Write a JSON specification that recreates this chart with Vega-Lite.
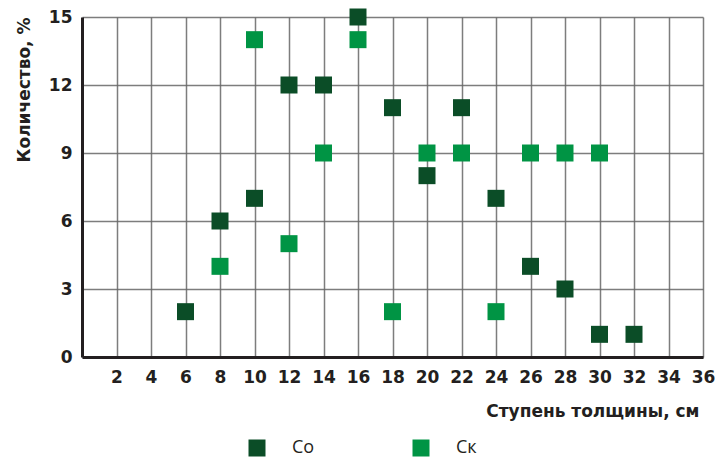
{
  "$schema": "https://vega.github.io/schema/vega-lite/v6.json",
  "autosize": "none",
  "width": 621,
  "height": 340,
  "padding": {"left": 82, "top": 17, "right": 12, "bottom": 102},
  "background": "white",
  "config": {
    "view": {"stroke": null},
    "font": "DejaVu Sans"
  },
  "data": {
    "values": [
      {"d": 6, "v": 2, "s": "Со"},
      {"d": 8, "v": 6, "s": "Со"},
      {"d": 10, "v": 7, "s": "Со"},
      {"d": 12, "v": 12, "s": "Со"},
      {"d": 14, "v": 12, "s": "Со"},
      {"d": 16, "v": 15, "s": "Со"},
      {"d": 18, "v": 11, "s": "Со"},
      {"d": 20, "v": 8, "s": "Со"},
      {"d": 22, "v": 11, "s": "Со"},
      {"d": 24, "v": 7, "s": "Со"},
      {"d": 26, "v": 4, "s": "Со"},
      {"d": 28, "v": 3, "s": "Со"},
      {"d": 30, "v": 1, "s": "Со"},
      {"d": 32, "v": 1, "s": "Со"},
      {"d": 8, "v": 4, "s": "Ск"},
      {"d": 10, "v": 14, "s": "Ск"},
      {"d": 12, "v": 5, "s": "Ск"},
      {"d": 14, "v": 9, "s": "Ск"},
      {"d": 16, "v": 14, "s": "Ск"},
      {"d": 18, "v": 2, "s": "Ск"},
      {"d": 20, "v": 9, "s": "Ск"},
      {"d": 22, "v": 9, "s": "Ск"},
      {"d": 24, "v": 2, "s": "Ск"},
      {"d": 26, "v": 9, "s": "Ск"},
      {"d": 28, "v": 9, "s": "Ск"},
      {"d": 30, "v": 9, "s": "Ск"}
    ]
  },
  "mark": {"type": "square", "size": 289, "filled": true, "opacity": 1},
  "encoding": {
    "x": {
      "field": "d",
      "type": "quantitative",
      "scale": {"domain": [0, 36], "nice": false, "zero": false},
      "axis": {
        "title": "Ступень толщины, см",
        "titleAnchor": "end",
        "titleFontWeight": "bold",
        "titleFontSize": 17,
        "titleColor": "#231f20",
        "titlePadding": 18,
        "titleX": 617,
        "values": [2,4,6,8,10,12,14,16,18,20,22,24,26,28,30,32,34,36],
        "labelFontWeight": "bold",
        "labelFontSize": 17,
        "labelColor": "#231f20",
        "labelPadding": 12,
        "ticks": false,
        "domainColor": "#231f20",
        "domainWidth": 3,
        "grid": true,
        "gridColor": "#666666",
        "gridWidth": 1.5,
        "gridOpacity": 0.85,
        "labelFlush": false
      }
    },
    "y": {
      "field": "v",
      "type": "quantitative",
      "scale": {"domain": [0, 15], "nice": false},
      "axis": {
        "title": "Количество, %",
        "titleAnchor": "end",
        "titleFontWeight": "bold",
        "titleFontSize": 17,
        "titleColor": "#231f20",
        "titlePadding": 15,
        "values": [0, 3, 6, 9, 12, 15],
        "labelFontWeight": "bold",
        "labelFontSize": 17,
        "labelColor": "#231f20",
        "labelPadding": 10,
        "ticks": false,
        "domainColor": "#231f20",
        "domainWidth": 3,
        "grid": true,
        "gridColor": "#666666",
        "gridWidth": 1.5,
        "gridOpacity": 0.85,
        "labelFlush": false
      }
    },
    "color": {
      "field": "s",
      "type": "nominal",
      "sort": ["Со", "Ск"],
      "scale": {"domain": ["Со", "Ск"], "range": ["#0b4d27", "#009444"]},
      "legend": {
        "title": null,
        "orient": "none",
        "legendX": 166,
        "legendY": 422,
        "direction": "horizontal",
        "symbolType": "square",
        "symbolSize": 289,
        "symbolStrokeWidth": 0,
        "symbolOpacity": 1,
        "labelFontSize": 18,
        "labelFont": "Open Sans",
        "labelColor": "#231f20",
        "labelOffset": 26,
        "columnPadding": 97
      }
    }
  }
}
